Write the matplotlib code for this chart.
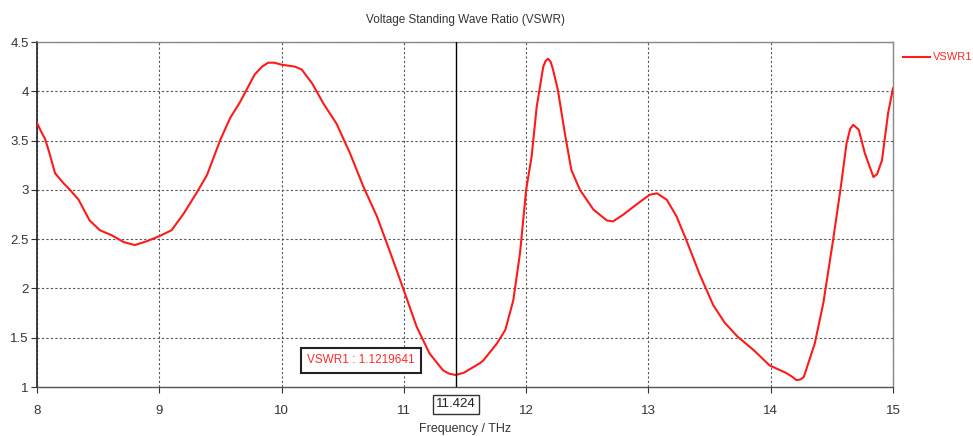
import matplotlib
matplotlib.use("Agg")
import matplotlib.pyplot as plt

plt.rcParams['font.family'] = ['Liberation Sans', 'DejaVu Sans']

# VSWR curve of port 1 versus frequency
freq_thz = [8.00, 8.03, 8.065, 8.10, 8.147, 8.215, 8.27, 8.34, 8.43, 8.515, 8.61, 8.71,
            8.80, 8.90, 9.00, 9.10, 9.20, 9.31, 9.39, 9.50, 9.58, 9.66,
            9.78, 9.84, 9.89, 9.94, 10.00, 10.11, 10.165, 10.25, 10.34, 10.45, 10.56, 10.67,
            10.78, 10.89, 11.00, 11.105, 11.21, 11.32, 11.37, 11.424, 11.49, 11.62, 11.65,
            11.76, 11.83, 11.895, 11.95, 12.00, 12.045, 12.086, 12.14, 12.16, 12.18, 12.20, 12.22,
            12.26, 12.317, 12.37, 12.44, 12.55, 12.66, 12.71, 12.79, 12.90, 13.01,
            13.07, 13.15, 13.23, 13.31, 13.42, 13.53, 13.625, 13.73, 13.86, 13.99,
            14.13, 14.18, 14.21, 14.24, 14.27, 14.36, 14.43, 14.51, 14.57, 14.62, 14.65, 14.675, 14.72,
            14.77, 14.84, 14.87, 14.91, 14.96, 15.00]
vswr = [3.68, 3.60, 3.52, 3.38, 3.17, 3.07, 3.00, 2.90, 2.69, 2.59, 2.54, 2.47,
        2.44, 2.48, 2.53, 2.59, 2.76, 2.98, 3.15, 3.51, 3.73, 3.89,
        4.17, 4.25, 4.29, 4.29, 4.27, 4.25, 4.22, 4.08, 3.88, 3.67, 3.37, 3.03,
        2.73, 2.36, 1.98, 1.61, 1.34, 1.17, 1.135, 1.122, 1.145, 1.24, 1.27,
        1.44, 1.58, 1.88, 2.36, 3.00, 3.34, 3.84, 4.25, 4.31, 4.33, 4.30, 4.22,
        4.01, 3.57, 3.20, 3.00, 2.80, 2.69, 2.68, 2.745, 2.85, 2.95,
        2.965, 2.90, 2.73, 2.49, 2.14, 1.83, 1.65, 1.51, 1.375, 1.22,
        1.14, 1.10, 1.07, 1.075, 1.10, 1.44, 1.85, 2.49, 3.00, 3.47, 3.62, 3.66, 3.61,
        3.37, 3.13, 3.16, 3.30, 3.78, 4.03]

x_ticks = [8, 9, 10, 11, 12, 13, 14, 15]
y_ticks = [1, 1.5, 2, 2.5, 3, 3.5, 4, 4.5]
y_tick_labels = ["1", "1.5", "2", "2.5", "3", "3.5", "4", "4.5"]

marker_freq = 11.424
marker_value = 1.1219641

W, H = 973, 436
fig = plt.figure(figsize=(W / 100, H / 100), dpi=100)
ax = fig.add_axes([37 / W, 1 - 387 / H, (893 - 37) / W, (387 - 42) / H])

ax.plot(freq_thz, vswr, color="#ff1a1a", lw=1.5, zorder=3, solid_joinstyle="round")

ax.set_xlim(8, 15)
ax.set_ylim(1, 4.5)
ax.set_xticks(x_ticks)
ax.set_yticks(y_ticks)
ax.set_yticklabels(y_tick_labels)
ax.grid(True, color="#555555", linestyle=(0, (2, 2)), lw=0.8)

for side in ("top", "right"):
    ax.spines[side].set_color("#888888")
    ax.spines[side].set_linewidth(1.0)
ax.spines["left"].set_color("#222222")
ax.spines["left"].set_linewidth(1.2)
ax.spines["bottom"].set_color("#555555")
ax.spines["bottom"].set_linewidth(1.0)

ax.tick_params(axis="both", labelsize=9.5, colors="#333333", length=4, width=0.8)
ax.tick_params(axis="x", pad=9)
ax.tick_params(axis="y", pad=2)

# Marker line and readouts
ax.axvline(marker_freq, color="black", lw=1.0, zorder=4)
ax.text(marker_freq, -0.05, f"{marker_freq:.3f}", transform=ax.get_xaxis_transform(),
        ha="center", va="center", fontsize=9.5, color="#222222",
        bbox=dict(boxstyle="square,pad=0.25", fc="white", ec="#333333", lw=1.0))
ax.text(10.65, 1.27, f"VSWR1 : {marker_value:.7f}", ha="center", va="center",
        fontsize=8.5, color="#ff2a2a", zorder=5,
        bbox=dict(boxstyle="square,pad=0.55", fc="white", ec="#222222", lw=1.5))

ax.set_title("Voltage Standing Wave Ratio (VSWR)", fontsize=8.5, color="#333333", pad=14)
ax.set_xlabel("Frequency / THz", fontsize=9, color="#333333", labelpad=4)

# Legend entry on the right margin
fig.lines.append(plt.Line2D([903 / W, 930 / W], [1 - 57 / H, 1 - 57 / H],
                            transform=fig.transFigure, color="#ff1a1a", lw=1.5))
fig.text(933 / W, 1 - 57 / H, "VSWR1", color="#ff2a2a", fontsize=8, va="center", ha="left")

fig.savefig("out.png", dpi=100)
